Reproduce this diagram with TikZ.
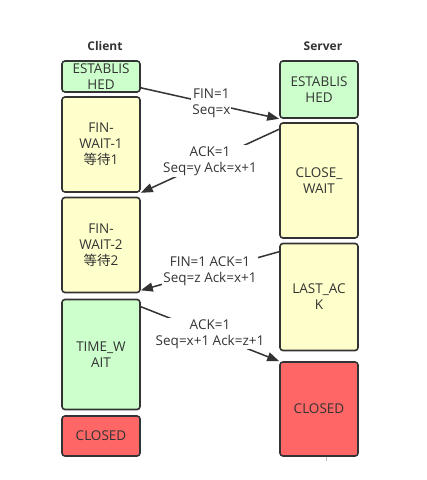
\documentclass[tikz,border=0pt]{standalone}
\usepackage{fontspec}
\setmainfont{Open Sans}
\newfontfamily\cjk{Noto Sans CJK SC}
\usetikzlibrary{arrows.meta}
\definecolor{txt}{HTML}{333333}
\definecolor{gfill}{HTML}{CCFFCC}
\definecolor{yfill}{HTML}{FFFFCC}
\definecolor{rfill}{HTML}{FF6666}
\tikzset{
  state/.style={draw=txt, line width=1.6pt, rounded corners=3pt, minimum width=78pt,
    align=center, text=txt, font=\fontsize{13.5}{16}\selectfont, inner sep=2pt},
  gst/.style={state, fill=gfill},
  yst/.style={state, fill=yfill},
  rst/.style={state, fill=rfill},
  msg/.style={draw=txt, line width=1.5pt, -{Triangle[length=12pt,width=9pt]}},
  lbl/.style={fill=white, text=txt, align=center, inner sep=1pt,
    font=\fontsize{13.5}{16}\selectfont},
  ttl/.style={text=txt, font=\fontsize{12}{14}\selectfont\bfseries}
}
\begin{document}
\begin{tikzpicture}[x=1pt,y=-1pt]
\useasboundingbox[fill=white] (0,0) rectangle (427,480);
% titles
\node[ttl] (tc) at (105,46) {Client};
\node[ttl] (ts) at (323,46) {Server};
% client column
\node[gst, minimum height=31pt] (ce) at (101,76.5) {ESTABLIS\\HED};
\node[yst, minimum height=95pt] (fw1) at (101,144.5) {FIN-\\WAIT-1\\{\cjk 等待}1};
\node[yst, minimum height=95pt] (fw2) at (101,245) {FIN-\\WAIT-2\\{\cjk 等待}2};
\node[gst, minimum height=110pt] (tw) at (101,354.5) {TIME\_W\\AIT};
\node[rst, minimum height=40pt] (cc) at (101,436) {CLOSED};
% server column
\node[gst, minimum height=57pt] (se) at (319,89.5) {ESTABLIS\\HED};
\node[yst, minimum height=115pt] (cw) at (319,180.5) {CLOSE\_\\WAIT};
\node[yst, minimum height=107pt] (la) at (319,297) {LAST\_AC\\K};
\node[rst, minimum height=94pt] (sc) at (319,409) {CLOSED};
\draw[black!25, line width=0.8pt] (sc.south) ++(7,0) coordinate (tk) -- ++(0,4);
% messages
\draw[msg] ([yshift=5pt]ce.south east) -- node[lbl, pos=0.51] (m1) {FIN=1\\Seq=x} (se.south west);
\draw[msg] ([yshift=-7pt]cw.north west) -- node[lbl, pos=0.5] (m2) {ACK=1\\Seq=y Ack=x+1} (fw1.south east);
\draw[msg] ([yshift=-9pt]la.north west) -- node[lbl, pos=0.5] (m3) {FIN=1 ACK=1\\Seq=z Ack=x+1} ([yshift=3pt]fw2.south east);
\draw[msg] ([yshift=-8pt]tw.north east) -- node[lbl, pos=0.5] (m4) {ACK=1\\Seq=x+1 Ack=z+1} (sc.north west);
\end{tikzpicture}
\end{document}
